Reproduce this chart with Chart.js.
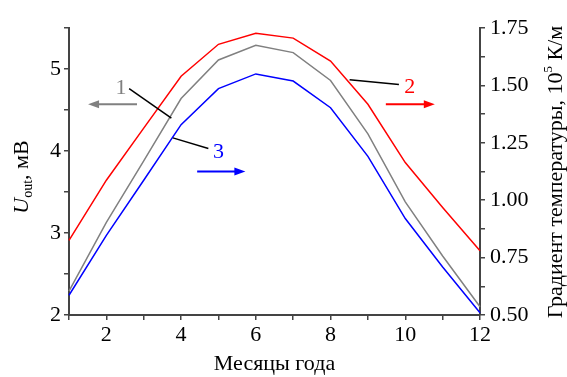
<!DOCTYPE html>
<html>
<head>
<meta charset="utf-8">
<script src="https://cdn.jsdelivr.net/npm/chart.js@4"></script>
<style>
  html, body { margin: 0; padding: 0; background: #fff; }
</style>
</head>
<body>
<canvas id="chart" width="567" height="377"></canvas>
<script>
'use strict'

// months of the year
let months = [1, 2, 3, 4, 5, 6, 7, 8, 9, 10, 11, 12];
// curve 1: U_out, mV (left axis)
let uOut = [2.29, 3.13, 3.88, 4.64, 5.11, 5.29, 5.20, 4.86, 4.21, 3.38, 2.72, 2.10];
// curve 2: temperature gradient, 10^5 K/m (right axis)
let grad2 = [0.825, 1.087, 1.314, 1.540, 1.679, 1.727, 1.706, 1.606, 1.418, 1.164, 0.968, 0.78];
// curve 3: temperature gradient, 10^5 K/m (right axis)
let grad3 = [0.586, 0.847, 1.087, 1.329, 1.486, 1.550, 1.519, 1.403, 1.191, 0.920, 0.709, 0.51];

const serif = '"Liberation Serif", "Times New Roman", serif';
const axisColor = '#444';

function points(ys) {
    return months.map((m, i) => ({ x: m, y: ys[i] }));
}

// labels, leader lines and arrows, in data units of x / left axis
const notes = [
    { text: '1', color: '#808080', x: 2.39, y: 4.77, lead: [2.61, 4.76, 3.74, 4.40], arrow: [2.82, 1.51, 4.57] },
    { text: '3', color: '#0000ff', x: 5.0, y: 3.98, lead: [3.78, 4.16, 4.73, 4.03], arrow: [4.43, 5.72, 3.75] },
    { text: '2', color: '#ff0000', x: 10.12, y: 4.78, lead: [8.51, 4.87, 9.83, 4.81], arrow: [9.48, 10.79, 4.57] },
];

const decor = {
    id: 'decor',
    afterDraw(chart) {
        const ctx = chart.ctx;
        const xs = chart.scales.x, ys = chart.scales.y;
        ctx.save();

        notes.forEach(n => {
            ctx.strokeStyle = '#000';
            ctx.lineWidth = 1.5;
            ctx.beginPath();
            ctx.moveTo(xs.getPixelForValue(n.lead[0]), ys.getPixelForValue(n.lead[1]));
            ctx.lineTo(xs.getPixelForValue(n.lead[2]), ys.getPixelForValue(n.lead[3]));
            ctx.stroke();

            ctx.fillStyle = n.color;
            ctx.font = '22px ' + serif;
            ctx.textAlign = 'center';
            ctx.textBaseline = 'middle';
            ctx.fillText(n.text, xs.getPixelForValue(n.x), ys.getPixelForValue(n.y));

            const x0 = xs.getPixelForValue(n.arrow[0]);
            const x1 = xs.getPixelForValue(n.arrow[1]);
            const ay = ys.getPixelForValue(n.arrow[2]);
            const dir = x1 > x0 ? 1 : -1;
            ctx.strokeStyle = n.color;
            ctx.lineWidth = 2;
            ctx.beginPath();
            ctx.moveTo(x0, ay);
            ctx.lineTo(x1 - dir * 8, ay);
            ctx.stroke();
            ctx.beginPath();
            ctx.moveTo(x1, ay);
            ctx.lineTo(x1 - dir * 11, ay - 4);
            ctx.lineTo(x1 - dir * 11, ay + 4);
            ctx.closePath();
            ctx.fill();
        });

        // left axis title: U_out, мВ
        ctx.fillStyle = '#000';
        ctx.textAlign = 'left';
        ctx.textBaseline = 'alphabetic';
        ctx.save();
        ctx.translate(28, 177);
        ctx.rotate(-Math.PI / 2);
        const parts = [
            { t: 'U', f: 'italic 22px ' + serif, dy: 0 },
            { t: 'out', f: '14px ' + serif, dy: 4 },
            { t: ', мВ', f: '22px ' + serif, dy: 0 },
        ];
        let w = 0;
        parts.forEach(p => { ctx.font = p.f; w += ctx.measureText(p.t).width; });
        let cx = -w / 2;
        parts.forEach(p => {
            ctx.font = p.f;
            ctx.fillText(p.t, cx, p.dy);
            cx += ctx.measureText(p.t).width;
        });
        ctx.restore();

        // right axis title
        ctx.save();
        ctx.translate(562, 172);
        ctx.rotate(-Math.PI / 2);
        const rparts = [
            { t: 'Градиент температуры, 10', f: '22px ' + serif, dy: 0 },
            { t: '5', f: '13px ' + serif, dy: -10 },
            { t: ' К/м', f: '22px ' + serif, dy: 0 },
        ];
        w = 0;
        rparts.forEach(p => { ctx.font = p.f; w += ctx.measureText(p.t).width; });
        cx = -w / 2;
        rparts.forEach(p => {
            ctx.font = p.f;
            ctx.fillText(p.t, cx, p.dy);
            cx += ctx.measureText(p.t).width;
        });
        ctx.restore();

        ctx.restore();
    }
};

const tickFont = { family: serif, size: 22 };

const config = {
    type: 'line',
    data: {
        datasets: [
            { label: '1', data: points(uOut), yAxisID: 'y', borderColor: '#808080', borderWidth: 1.5 },
            { label: '2', data: points(grad2), yAxisID: 'y2', borderColor: '#ff0000', borderWidth: 1.5 },
            { label: '3', data: points(grad3), yAxisID: 'y2', borderColor: '#0000ff', borderWidth: 1.5 },
        ]
    },
    options: {
        responsive: false,
        animation: false,
        clip: false,
        elements: { point: { radius: 0 }, line: { tension: 0 } },
        layout: { padding: { top: 28, left: 0, right: 0, bottom: 0 } },
        plugins: { legend: { display: false }, tooltip: { enabled: false } },
        scales: {
            x: {
                type: 'linear',
                min: 1, max: 12,
                afterFit: s => { s.height = 62; },
                border: { color: axisColor, width: 2 },
                grid: { drawOnChartArea: false, tickLength: 5, color: axisColor, lineWidth: 1.5 },
                ticks: {
                    stepSize: 1, autoSkip: false, maxRotation: 0, padding: 2,
                    color: '#000', font: tickFont,
                    callback: v => (v % 2 === 0 ? v : '')
                },
                title: { display: true, text: 'Месяцы года', color: '#000', font: tickFont, padding: 0 }
            },
            y: {
                position: 'left',
                min: 2, max: 5.5,
                afterFit: s => { s.width = 69; },
                border: { color: axisColor, width: 2 },
                grid: { drawOnChartArea: false, tickLength: 5, color: axisColor, lineWidth: 1.5 },
                ticks: {
                    stepSize: 0.5, autoSkip: false, padding: 3,
                    color: '#000', font: tickFont,
                    callback: v => (Number.isInteger(v) ? v : '')
                }
            },
            y2: {
                position: 'right',
                min: 0.5, max: 1.75,
                afterFit: s => { s.width = 87; },
                border: { color: axisColor, width: 2 },
                grid: { drawOnChartArea: false, tickLength: 5, color: axisColor, lineWidth: 1.5 },
                ticks: {
                    stepSize: 0.125, autoSkip: false, padding: 5,
                    color: '#000', font: tickFont,
                    callback: v => (Math.round(v * 1000) % 250 === 0 ? v.toFixed(2) : '')
                }
            }
        }
    },
    plugins: [decor]
};

const chart = new Chart(document.getElementById('chart'), config);
</script>
</body>
</html>
